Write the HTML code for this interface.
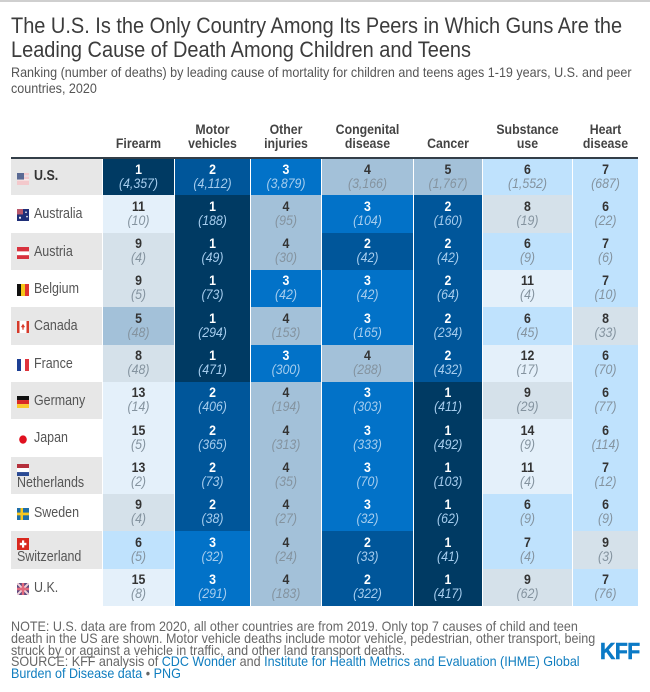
<!DOCTYPE html>
<html lang="en">
<head>
<meta charset="utf-8">
<title>Leading causes of death among children and teens</title>
<style>
html,body{margin:0;padding:0;background:#fff;}
body{width:650px;height:692px;position:relative;overflow:hidden;font-family:"Liberation Sans",Arial,sans-serif;}
.sq{position:absolute;white-space:nowrap;transform-origin:0 0;}
#top-rule{position:absolute;left:0;top:0;width:650px;height:2px;background:#cfcfcf;}
#title{left:11px;top:14px;font-size:22px;line-height:24px;color:#3c3c3c;transform:scaleX(.907);}
#subtitle{left:11px;top:65px;font-size:14px;line-height:15.5px;color:#555;transform:scaleX(.897);}
#head-rule{position:absolute;left:11px;top:157px;width:627px;height:2px;background:#333e48;}
#grid{position:absolute;left:11px;top:159px;width:627px;height:447px;display:grid;
  grid-template-columns:91px 71px 75px 70px 91px 68px 89px 65px;column-gap:1px;
  grid-template-rows:36px 38px 37px 37px 38px 37px 37px 38px 37px 37px 38px 37px;}
.hd{position:absolute;top:120px;height:30px;font-size:14px;line-height:14px;font-weight:bold;color:#444;text-align:center;display:flex;flex-direction:column;justify-content:flex-end;}
.hd span{display:block;transform:scaleX(.88);white-space:nowrap;}
.lab{grid-column:1;position:relative;color:#555;font-size:15px;}
.lab.band{background:#e7e7e7;}
.lab svg{position:absolute;left:6px;top:14px;width:12px;height:12px;}
.lab .nm{position:absolute;left:23px;top:11px;line-height:16px;white-space:nowrap;transform:scaleX(.83);transform-origin:0 0;}
.lab.wrap svg{top:7px;}
.lab.wrap .nm{left:6px;top:18px;}
.cell{text-align:center;font-size:14px;line-height:14px;display:flex;flex-direction:column;justify-content:center;padding-bottom:3px;box-sizing:border-box;overflow:hidden;}
.cell b,.cell i{display:block;transform:scaleX(.88);}
.foot{left:11px;top:621px;font-size:14px;line-height:11.8px;color:#666;transform:scaleX(.897);}
.foot a{color:#0f7dbf;text-decoration:none;}
#logo{position:absolute;left:600px;top:638px;font-size:23px;line-height:26px;font-weight:bold;color:#0b7ac6;transform:scaleX(.92);transform-origin:0 0;letter-spacing:-.5px;-webkit-text-stroke:.6px #0b7ac6;}
</style>
</head>
<body>
<div id="top-rule"></div>
<div id="title" class="sq">The U.S. Is the Only Country Among Its Peers in Which Guns Are the<br>Leading Cause of Death Among Children and Teens</div>
<div id="subtitle" class="sq">Ranking (number of deaths) by leading cause of mortality for children and teens ages 1-19 years, U.S. and peer<br>countries, 2020</div>

<div class="hd" style="left:103px;width:71px"><span>Firearm</span></div>
<div class="hd" style="left:175px;width:75px"><span>Motor</span><span>vehicles</span></div>
<div class="hd" style="left:251px;width:70px"><span>Other</span><span>injuries</span></div>
<div class="hd" style="left:322px;width:91px"><span>Congenital</span><span>disease</span></div>
<div class="hd" style="left:414px;width:68px"><span>Cancer</span></div>
<div class="hd" style="left:483px;width:89px"><span>Substance</span><span>use</span></div>
<div class="hd" style="left:573px;width:65px"><span>Heart</span><span>disease</span></div>

<div id="head-rule"></div>

<div id="grid">
  <div class="lab band" style="grid-row:1;color:#333;font-weight:bold">
    <svg viewBox="0 0 12 11" preserveAspectRatio="none"><rect width="12" height="11" fill="#f3c9cc"/><rect y="2" width="12" height="1.5" fill="#e8e0e4"/><rect y="5.5" width="12" height="1.5" fill="#f7eaea"/><rect width="7" height="6" fill="#5a6a94"/></svg>
    <span class="nm" style="top:9px">U.S.</span></div>
  <div class="lab" style="grid-row:2">
    <svg viewBox="0 0 12 11" preserveAspectRatio="none"><rect width="12" height="11" fill="#1f2f78"/><rect width="6" height="5" fill="#b9586c"/><circle cx="9" cy="3" r=".8" fill="#fff"/><circle cx="10" cy="7" r=".8" fill="#fff"/><circle cx="3" cy="8" r="1" fill="#fff"/></svg>
    <span class="nm">Australia</span></div>
  <div class="lab band" style="grid-row:3">
    <svg viewBox="0 0 12 11" preserveAspectRatio="none"><rect width="12" height="11" fill="#d8323e"/><rect y="4" width="12" height="3.5" fill="#fff"/></svg>
    <span class="nm">Austria</span></div>
  <div class="lab" style="grid-row:4">
    <svg viewBox="0 0 12 11" preserveAspectRatio="none"><rect width="4" height="11" fill="#111"/><rect x="4" width="4" height="11" fill="#f5c518"/><rect x="8" width="4" height="11" fill="#e0332f"/></svg>
    <span class="nm">Belgium</span></div>
  <div class="lab band" style="grid-row:5">
    <svg viewBox="0 0 12 11" preserveAspectRatio="none"><rect width="12" height="11" fill="#fff"/><rect width="2.5" height="11" fill="#d63a2a"/><rect x="9.5" width="2.5" height="11" fill="#d63a2a"/><path d="M6 2.5 L8 5.5 L6.6 6 L6.6 8 L5.4 8 L5.4 6 L4 5.5 Z" fill="#d63a2a"/></svg>
    <span class="nm">Canada</span></div>
  <div class="lab" style="grid-row:6">
    <svg viewBox="0 0 12 11" preserveAspectRatio="none"><rect width="4" height="11" fill="#1c3f94"/><rect x="4" width="4" height="11" fill="#fff"/><rect x="8" width="4" height="11" fill="#e0333c"/></svg>
    <span class="nm">France</span></div>
  <div class="lab band" style="grid-row:7">
    <svg viewBox="0 0 12 11" preserveAspectRatio="none"><rect width="12" height="3.7" fill="#111"/><rect y="3.7" width="12" height="3.7" fill="#d92a26"/><rect y="7.4" width="12" height="3.6" fill="#fbc92c"/></svg>
    <span class="nm">Germany</span></div>
  <div class="lab" style="grid-row:8">
    <svg viewBox="0 0 12 11" preserveAspectRatio="none"><circle cx="6" cy="6" r="3.8" fill="#e0101f"/></svg>
    <span class="nm">Japan</span></div>
  <div class="lab band wrap" style="grid-row:9">
    <svg viewBox="0 0 12 11" preserveAspectRatio="none"><rect width="12" height="3.7" fill="#b5303c"/><rect y="3.7" width="12" height="3.7" fill="#fff"/><rect y="7.4" width="12" height="3.6" fill="#2a4a94"/></svg>
    <span class="nm">Netherlands</span></div>
  <div class="lab" style="grid-row:10">
    <svg viewBox="0 0 12 11" preserveAspectRatio="none"><rect width="12" height="11" fill="#1f6fa8"/><rect x="3.5" width="2.5" height="11" fill="#f7c81e"/><rect y="4.2" width="12" height="2.5" fill="#f7c81e"/></svg>
    <span class="nm">Sweden</span></div>
  <div class="lab band wrap" style="grid-row:11">
    <svg viewBox="0 0 12 11" preserveAspectRatio="none"><rect width="12" height="11" fill="#d9281e"/><rect x="5" y="2.2" width="2.2" height="6.6" fill="#fff"/><rect x="2.8" y="4.4" width="6.6" height="2.2" fill="#fff"/></svg>
    <span class="nm">Switzerland</span></div>
  <div class="lab" style="grid-row:12">
    <svg viewBox="0 0 12 11" preserveAspectRatio="none"><rect width="12" height="11" fill="#5a4a80"/><path d="M0 0L12 11M12 0L0 11" stroke="#f0d0d8" stroke-width="2"/><rect x="4.8" width="2.4" height="11" fill="#e0687c"/><rect y="4.3" width="12" height="2.4" fill="#e0687c"/></svg>
    <span class="nm">U.K.</span></div>
</div>

<div class="sq foot">NOTE: U.S. data are from 2020, all other countries are from 2019. Only top 7 causes of child and teen<br>death in the US are shown. Motor vehicle deaths include motor vehicle, pedestrian, other transport, being<br>struck by or against a vehicle in traffic, and other land transport deaths.<br>SOURCE: KFF analysis of <a href="#">CDC Wonder</a> and <a href="#">Institute for Health Metrics and Evaluation (IHME) Global</a><br><a href="#">Burden of Disease data</a> • <a href="#">PNG</a></div>
<div id="logo">KFF</div>

<script>
const causes = ['firearm', 'motor-vehicles', 'other-injuries', 'congenital-disease', 'cancer', 'substance-use', 'heart-disease'];
const countries = ['us', 'australia', 'austria', 'belgium', 'canada', 'france', 'germany', 'japan', 'netherlands', 'sweden', 'switzerland', 'uk'];

const firearmRanks = [1, 11, 9, 9, 5, 8, 13, 15, 13, 9, 6, 15];
const firearmDeaths = [4357, 10, 4, 5, 48, 48, 14, 5, 2, 4, 5, 8];
const motorRanks = [2, 1, 1, 1, 1, 1, 2, 2, 2, 2, 3, 3];
const motorDeaths = [4112, 188, 49, 73, 294, 471, 406, 365, 73, 38, 32, 291];
const injuryRanks = [3, 4, 4, 3, 4, 3, 4, 4, 4, 4, 4, 4];
const injuryDeaths = [3879, 95, 30, 42, 153, 300, 194, 313, 35, 27, 24, 183];
const congenitalRanks = [4, 3, 2, 3, 3, 4, 3, 3, 3, 3, 2, 2];
const congenitalDeaths = [3166, 104, 42, 42, 165, 288, 303, 333, 70, 32, 33, 322];
const cancerRanks = [5, 2, 2, 2, 2, 2, 1, 1, 1, 1, 1, 1];
const cancerDeaths = [1767, 160, 42, 64, 234, 432, 411, 492, 103, 62, 41, 417];
const substanceRanks = [6, 8, 6, 11, 6, 12, 9, 14, 11, 6, 7, 9];
const substanceDeaths = [1552, 19, 9, 4, 45, 17, 29, 9, 4, 9, 4, 62];
const heartRanks = [7, 6, 7, 7, 8, 6, 6, 6, 7, 6, 9, 7];
const heartDeaths = [687, 22, 6, 10, 33, 70, 77, 114, 12, 9, 3, 76];

const rankSeries = [firearmRanks, motorRanks, injuryRanks, congenitalRanks, cancerRanks, substanceRanks, heartRanks];
const deathSeries = [firearmDeaths, motorDeaths, injuryDeaths, congenitalDeaths, cancerDeaths, substanceDeaths, heartDeaths];

function rankColor(rank) {
  if (rank <= 1) return '#003a63';
  if (rank === 2) return '#00569a';
  if (rank === 3) return '#0272c8';
  if (rank <= 5) return '#a3c1d9';
  if (rank <= 7) return '#bfe2fd';
  if (rank <= 10) return '#d5e1ea';
  return '#e4f0fa';
}

const grid = document.getElementById('grid');
rankSeries.forEach(function (ranks, c) {
  ranks.forEach(function (rank, r) {
    const dark = rank <= 3;
    const cell = document.createElement('div');
    cell.className = 'cell';
    
    
    cell.style.gridColumn = String(c + 2);
    cell.style.gridRow = String(r + 1);
    cell.style.background = rankColor(rank);
    const rankEl = document.createElement('b');
    
    
    rankEl.textContent = rank;
    rankEl.style.color = dark ? '#ffffff' : '#333333';
    const deathEl = document.createElement('i');
    
    
    deathEl.textContent = '(' + deathSeries[c][r].toLocaleString('en-US') + ')';
    deathEl.style.color = dark ? '#a6cdee' : '#84939f';
    cell.appendChild(rankEl);
    cell.appendChild(deathEl);
    grid.appendChild(cell);
  });
});
</script>
</body>
</html>
